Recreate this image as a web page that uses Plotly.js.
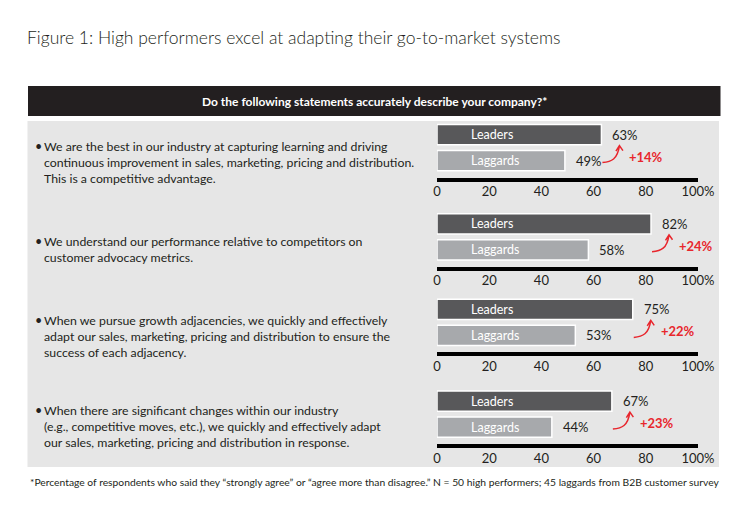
<!DOCTYPE html>
<html>
<head>
<meta charset="utf-8">
<script src="https://cdn.plot.ly/plotly-3.0.1.min.js"></script>
<style>html,body{margin:0;padding:0;background:#fff;}#chart{width:750px;height:521px;}</style>
</head>
<body>
<div id="chart"></div>
<script>
// ---- data ----
const statements = [
  "We are the best in our industry at capturing learning and driving<br>continuous improvement in sales, marketing, pricing and distribution.<br>This is a competitive advantage.",
  "We understand our performance relative to competitors on<br>customer advocacy metrics.",
  "When we pursue growth adjacencies, we quickly and effectively<br>adapt our sales, marketing, pricing and distribution to ensure the<br>success of each adjacency.",
  "When there are significant changes within our industry<br>(e.g., competitive moves, etc.), we quickly and effectively adapt<br>our sales, marketing, pricing and distribution in response."
];
const groups = ["Leaders", "Laggards"];
const leaders = [63, 82, 75, 67];
const laggards = [49, 58, 53, 44];
const tickVals = [0, 20, 40, 60, 80, 100];
const tickText = ["0", "20", "40", "60", "80", "100%"];
const titleText = "Figure 1: High performers excel at adapting their go-to-market systems";
const headerText = "Do the following statements accurately describe your company?*";
const footnote = "*Percentage of respondents who said they \u201cstrongly agree\u201d or \u201cagree more than disagree.\u201d N = 50 high performers; 45 laggards from B2B customer survey";

// ---- layout helpers ----
const W = 750, H = 521;
const FONT = "Lato, 'Open Sans', sans-serif";
const px = v => v / W;
const py = v => 1 - v / H;
const RED = "#e8262d";
const rowBottoms = [177.5, 266.7, 352.3, 444];
const rowH = 55.9;
const textTops = [137, 232, 311, 401];

const traces = [];
const annotations = [];
const shapes = [
  {type: "rect", xref: "paper", yref: "paper", x0: px(28), x1: px(720.5), y0: py(116), y1: py(86),
   fillcolor: "#231f20", line: {width: 0}, layer: "below"},
  {type: "rect", xref: "paper", yref: "paper", x0: px(27.5), x1: px(719), y0: py(467), y1: py(121),
   fillcolor: "#e6e6e6", line: {width: 0}, layer: "below"}
];
const layout = {
  width: W, height: H,
  margin: {l: 0, r: 0, t: 0, b: 0},
  paper_bgcolor: "#ffffff", plot_bgcolor: "rgba(0,0,0,0)",
  showlegend: false,
  font: {family: FONT, color: "#231f20"},
  title: {text: titleText, x: px(27), xanchor: "left", xref: "container", y: py(37.5), yanchor: "middle",
          font: {family: FONT, size: 17.5, weight: 300, color: "#231f20"}},
  shapes: shapes, annotations: annotations
};

annotations.push({xref: "paper", yref: "paper", x: px(374), y: py(101), text: "<b>" + headerText + "</b>",
  showarrow: false, xanchor: "center", yanchor: "middle", font: {size: 12, color: "#ffffff", family: FONT}});
annotations.push({xref: "paper", yref: "paper", x: px(28), y: py(481.5), text: footnote,
  showarrow: false, xanchor: "left", yanchor: "middle", font: {size: 10.3, color: "#231f20", family: FONT}});

for (let i = 0; i < 4; i++) {
  const n = i === 0 ? "" : String(i + 1);
  const xa = "x" + n, ya = "y" + n;
  const bottom = rowBottoms[i], top = bottom - rowH;
  layout["xaxis" + n] = {
    domain: [px(437), px(698)], range: [0, 100], anchor: ya,
    showline: true, linewidth: 4, linecolor: "#000000",
    ticks: "", tickvals: tickVals, ticktext: tickText, ticklabelstandoff: -1,
    tickfont: {size: 13, color: "#231f20", family: FONT},
    showgrid: false, zeroline: false, fixedrange: true
  };
  layout["yaxis" + n] = {
    domain: [py(bottom), py(top)], anchor: xa, range: [-0.65, 1.5],
    type: "category", categoryorder: "array", categoryarray: ["Laggards", "Leaders"],
    visible: false, fixedrange: true
  };
  traces.push({
    type: "bar", orientation: "h", xaxis: xa, yaxis: ya,
    y: groups, x: [leaders[i], laggards[i]], width: 0.78,
    marker: {color: ["#58585a", "#a7a9ac"], line: {color: "#ffffff", width: 1.5}},
    hoverinfo: "skip"
  });
  const vals = [leaders[i], laggards[i]];
  groups.forEach((g, k) => {
    annotations.push({xref: xa, yref: ya, x: 0, y: g, text: g, showarrow: false,
      xanchor: "left", yanchor: "middle", xshift: 32, font: {size: 12.5, color: "#ffffff", family: FONT}});
    annotations.push({xref: xa, yref: ya, x: vals[k], y: g, text: vals[k] + "%", showarrow: false,
      xanchor: "left", yanchor: "middle", xshift: 9, font: {size: 13, color: "#231f20", family: FONT}});
  });
  const delta = leaders[i] - laggards[i];
  annotations.push({xref: xa, yref: ya, x: leaders[i], y: 0.5, text: "<b>+" + delta + "%</b>", showarrow: false,
    xanchor: "left", yanchor: "middle", xshift: 26, yshift: -9, font: {size: 13, color: RED, family: FONT}});
  shapes.push({type: "path", xref: xa, yref: ya, xsizemode: "pixel", ysizemode: "pixel",
    xanchor: leaders[i], yanchor: 0.5,
    path: "M 1,-15 C 10,-14 16,-12 18,2 M 14.5,-3.5 L 18,2 L 21.5,-3",
    line: {color: RED, width: 1.5}});
  // statement text
  annotations.push({xref: "paper", yref: "paper", x: px(33), y: py(textTops[i]), text: "\u2022", showarrow: false,
    xanchor: "left", yanchor: "top", font: {size: 12.5, color: "#231f20", family: FONT}});
  annotations.push({xref: "paper", yref: "paper", x: px(42), y: py(textTops[i]), text: statements[i], showarrow: false,
    xanchor: "left", yanchor: "top", align: "left", font: {size: 12.3, color: "#231f20", family: FONT}});
}

Plotly.newPlot("chart", traces, layout, {displayModeBar: false, staticPlot: true});
</script>
</body>
</html>
